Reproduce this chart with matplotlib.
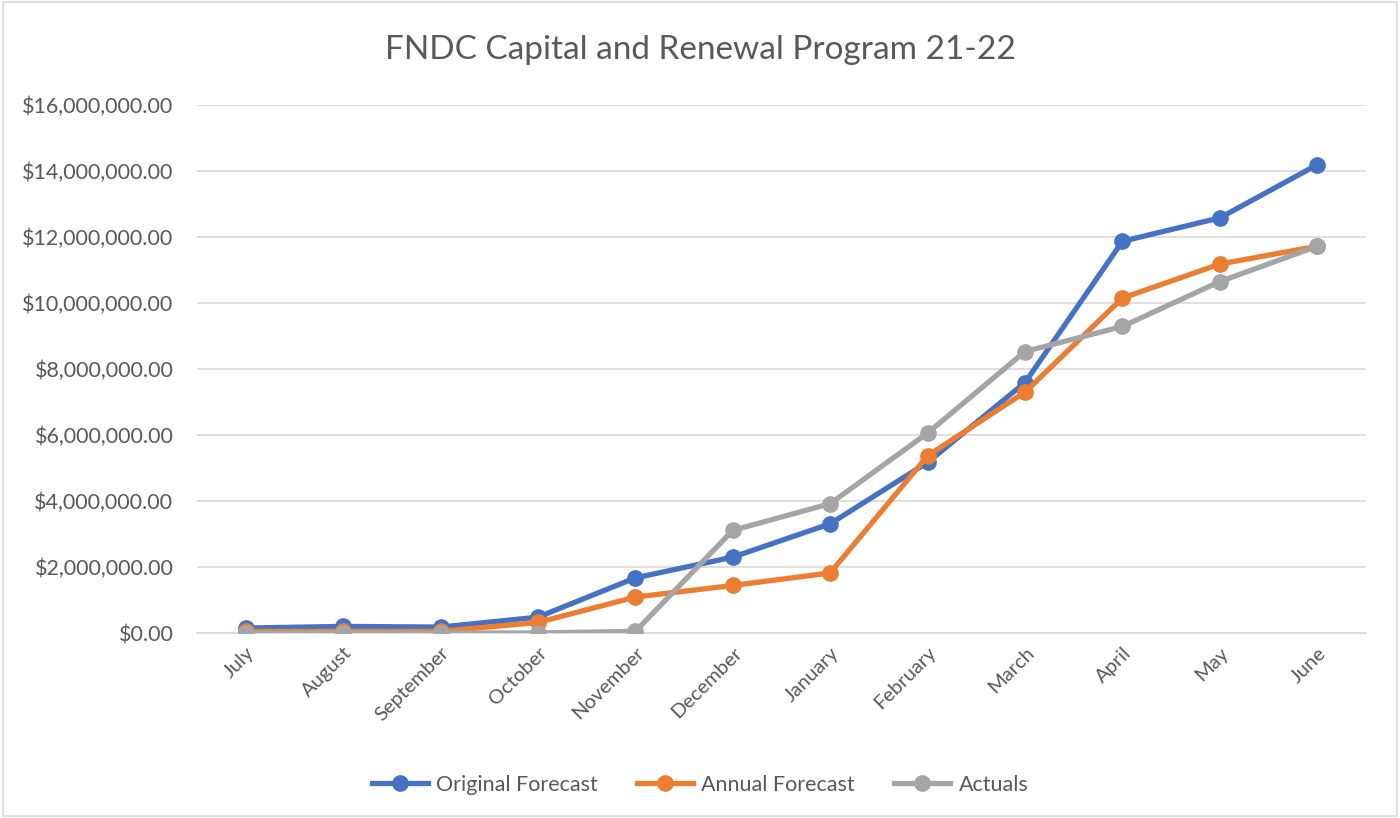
import matplotlib.pyplot as plt
from matplotlib.ticker import FuncFormatter
from matplotlib.patches import Rectangle

plt.rcParams['font.family'] = ['Lato', 'DejaVu Sans']

months = ['July', 'August', 'September', 'October', 'November', 'December',
          'January', 'February', 'March', 'April', 'May', 'June']
original = [0.15e6, 0.20e6, 0.18e6, 0.48e6, 1.67e6, 2.30e6,
            3.31e6, 5.17e6, 7.59e6, 11.87e6, 12.58e6, 14.19e6]
annual = [0.05e6, 0.05e6, 0.05e6, 0.32e6, 1.09e6, 1.44e6,
          1.82e6, 5.37e6, 7.30e6, 10.15e6, 11.18e6, 11.72e6]
actuals = [0.0, 0.0, 0.0, 0.0, 0.05e6, 3.11e6,
           3.92e6, 6.06e6, 8.53e6, 9.29e6, 10.65e6, 11.72e6]

fig = plt.figure(figsize=(14, 8.18), dpi=100)
ax = fig.add_axes([197/1400, 1-633/818, (1366-197)/1400, (633-105)/818])

# chart border
fig.patches.append(Rectangle((0.002, 0.002), 0.996, 0.996, transform=fig.transFigure,
                             fill=False, edgecolor='#D9D9D9', linewidth=1.2))

x = range(len(months))
ax.plot(x, original, color='#4472C4', lw=3.8, marker='o', ms=11, label='Original Forecast', zorder=3)
ax.plot(x, annual, color='#ED7D31', lw=3.8, marker='o', ms=11, label='Annual Forecast', zorder=4)
ax.plot(x, actuals, color='#A5A5A5', lw=3.8, marker='o', ms=11, label='Actuals', zorder=5)

ax.set_xlim(-0.5, 11.5)
ax.set_ylim(0, 16e6)
ax.set_yticks([i * 2e6 for i in range(9)])
ax.yaxis.set_major_formatter(FuncFormatter(lambda v, p: '${:,.2f}'.format(v)))
ax.grid(axis='y', color='#D9D9D9', lw=1.2)
ax.set_axisbelow(True)
for s in ['top', 'right', 'left']:
    ax.spines[s].set_visible(False)
ax.spines['bottom'].set_color('#D9D9D9')
ax.spines['bottom'].set_linewidth(1.2)
ax.tick_params(axis='y', length=0, pad=17, labelsize=15.5, labelcolor='#595959')
ax.tick_params(axis='x', length=0, pad=8, labelsize=14.5, labelcolor='#595959')
ax.set_xticks(list(x))
ax.set_xticklabels(months, rotation=45, ha='right', rotation_mode='anchor')

fig.text(0.5, 1-50/818, 'FNDC Capital and Renewal Program 21-22', ha='center', va='center',
         fontsize=24, color='#595959')

fig.legend(loc='center', bbox_to_anchor=(0.5, 1-785/818), ncol=3, frameon=False,
           fontsize=15.5, labelcolor='#595959', handlelength=2.6, columnspacing=1.8,
           handletextpad=0.4)

fig.savefig('out.png', dpi=100)
